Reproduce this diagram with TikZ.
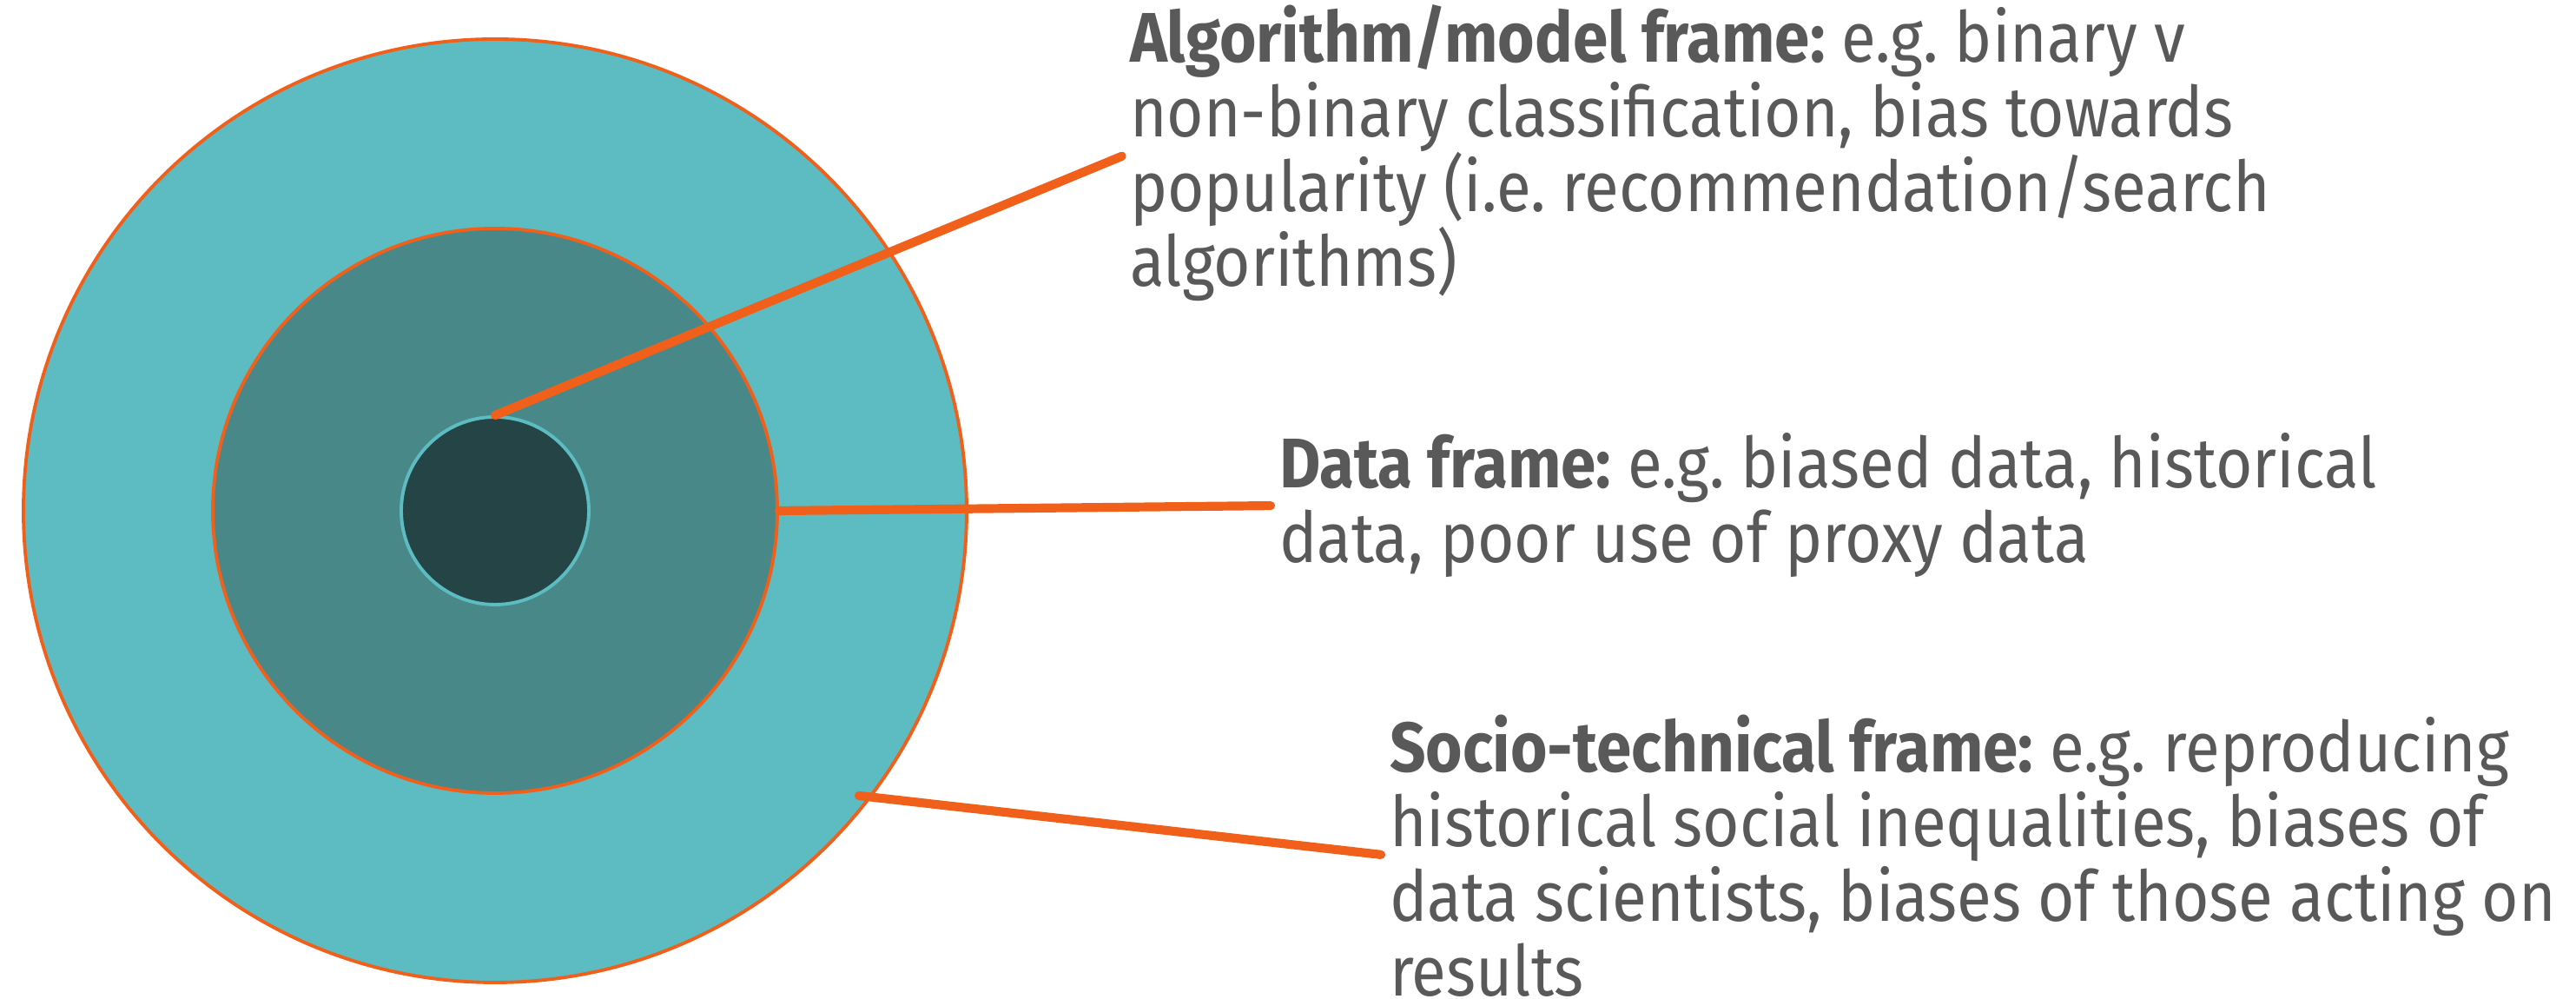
\documentclass[tikz,border=0pt]{standalone}
\usepackage{fontspec}
\setmainfont{Fira Sans}[FakeStretch=0.9]
\usetikzlibrary{positioning}
\definecolor{outerteal}{HTML}{5DBCC2}
\definecolor{midteal}{HTML}{488889}
\definecolor{innerteal}{HTML}{244446}
\definecolor{frameorange}{HTML}{F0601A}
\definecolor{notegrey}{HTML}{595959}

\begin{document}
\begin{tikzpicture}[
  ring/.style={circle, draw=frameorange, line width=1.1pt, inner sep=0pt},
  lead/.style={draw=frameorange, line width=2.9pt, line cap=round, shorten >=1mm},
  note/.style={anchor=west, align=left, inner sep=0pt, outer sep=0pt, text=notegrey,
    font=\fontsize{23pt}{24.5pt}\selectfont\frenchspacing}]
\useasboundingbox (0,0) rectangle (29.66,11.5);

% Nested frames
\node[ring, fill=outerteal, minimum size=10.86cm] (outer) at (5.70,5.62) {};
\node[ring, fill=midteal, minimum size=6.5cm] (middle) at (5.70,5.62) {};
\node[ring, fill=innerteal, draw=outerteal, minimum size=2.16cm] (inner) at (5.70,5.62) {};
\coordinate (socpin) at (9.89,2.34);

% Labels
\node[note] (algo) at (13.01,9.74) {\textbf{Algorithm/model frame:} e.g. binary v\\non-binary classification, bias towards\\popularity (i.e. recommendation/search\\algorithms)};
\node[note] (data) at (14.73,5.68) {\textbf{Data frame:} e.g. biased data, historical\\data, poor use of proxy data};
\node[note] (soc) at (16.00,1.65) {\textbf{Socio-technical frame:} e.g. reproducing\\historical social inequalities, biases of\\data scientists, biases of those acting on\\results};

% Leader lines
\draw[lead] (inner.north) -- (algo.west);
\draw[lead] (middle.east) -- (data.west);
\draw[lead] (socpin) -- (soc.west);
\end{tikzpicture}
\end{document}
